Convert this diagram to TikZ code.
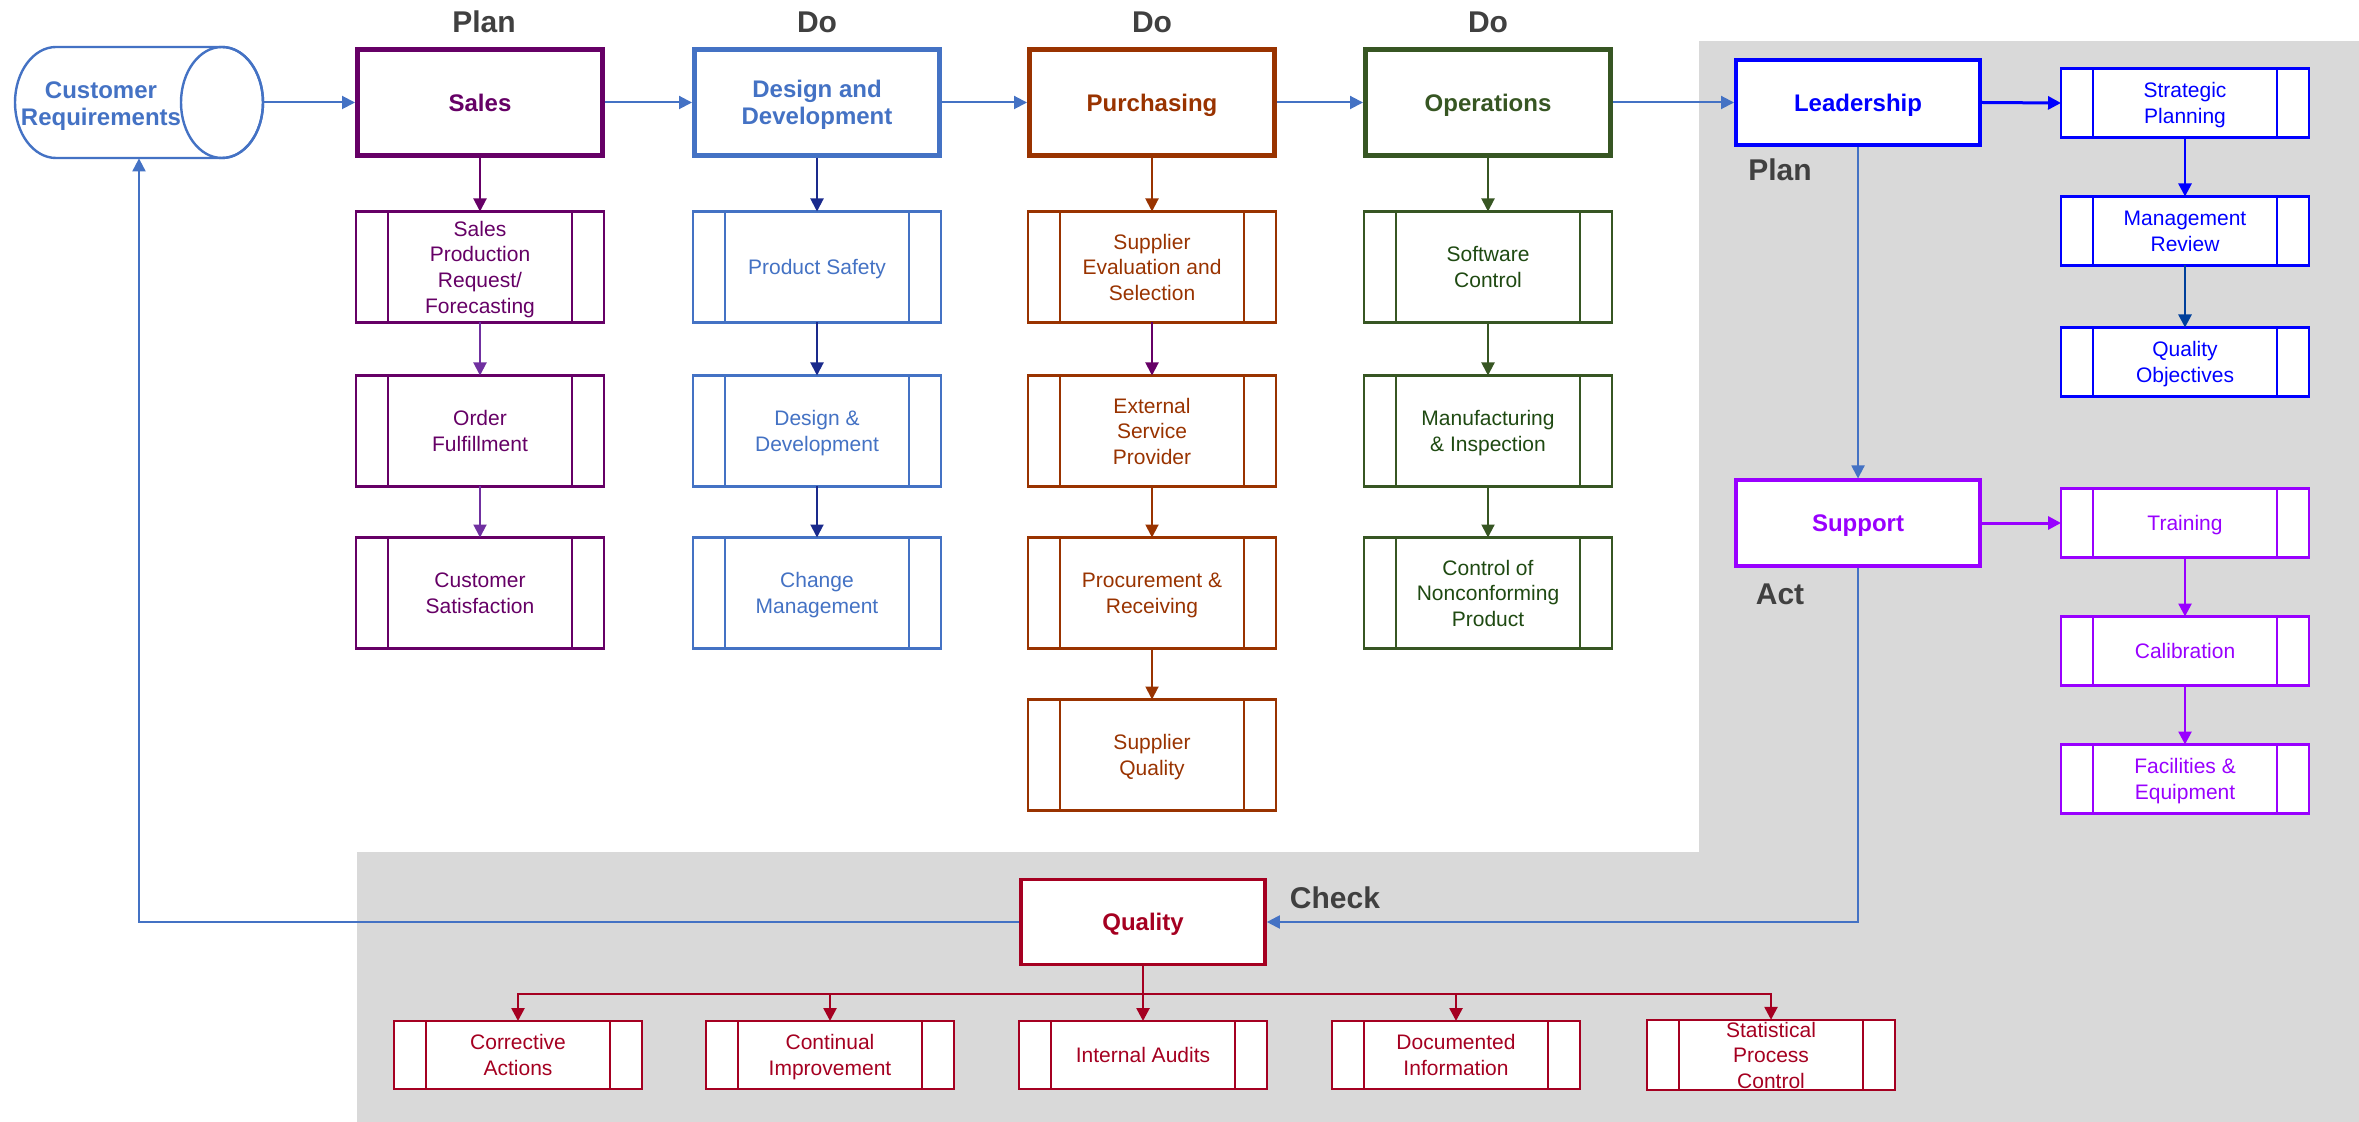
\documentclass[tikz,border=0pt]{standalone}
\usepackage{fontspec}
\setmainfont{Liberation Sans}
\usetikzlibrary{arrows.meta}
\definecolor{salesC}{HTML}{660066}
\definecolor{salesA}{HTML}{7030A0}
\definecolor{desC}{HTML}{4472C4}
\definecolor{desA}{HTML}{1A2A8C}
\definecolor{purC}{HTML}{993300}
\definecolor{opsC}{HTML}{375623}
\definecolor{opsT}{HTML}{1F4A12}
\definecolor{leadC}{HTML}{0000FF}
\definecolor{leadA}{HTML}{00409C}
\definecolor{supC}{HTML}{9900FF}
\definecolor{qualC}{HTML}{A50021}
\definecolor{bgC}{HTML}{D9D9D9}
\definecolor{lblC}{HTML}{404040}
\newcommand{\pbox}[6][]{%
  \node[subbox, draw=#4, text=#4, minimum height=#5, #1] (#2) at #3 {#6};
  \draw[#4, line width=1.2pt] ([xshift=16pt]#2.north west) -- ([xshift=16pt]#2.south west)
    ([xshift=-16pt]#2.north east) -- ([xshift=-16pt]#2.south east);}
\begin{document}
\begin{tikzpicture}[x=0.5pt,y=-0.5pt,
  mainbox/.style={draw, fill=white, line width=2.5pt, minimum width=122.5pt, minimum height=53pt, align=center, font=\fontsize{12}{13.5}\selectfont\bfseries, inner sep=2pt, text depth=0pt},
  thinmain/.style={draw, fill=white, line width=2pt, minimum width=122pt, minimum height=42.5pt, align=center, font=\fontsize{12}{13.5}\selectfont\bfseries, inner sep=2pt, text depth=0pt},
  subbox/.style={draw, fill=white, line width=1.2pt, minimum width=124pt, align=center, font=\fontsize{10.5}{12.8}\selectfont, inner sep=1pt, outer sep=0pt, text depth=0pt},
  phase/.style={font=\fontsize{15}{18}\selectfont\bfseries, text=lblC, inner sep=0pt},
  arr/.style={-{Triangle[length=6.5pt,width=6.5pt]}, line width=1pt}
]
\useasboundingbox (0,0) rectangle (2359,1122);
\fill[bgC] (1699,41) rectangle (2359,1122);
\fill[bgC] (357,852) rectangle (2359,1122);
% phase labels
\node[phase] (lp1) at (484,22) {Plan};
\node[phase] (ld1) at (817,22) {Do};
\node[phase] (ld2) at (1152,22) {Do};
\node[phase] (ld3) at (1488,22) {Do};
\node[phase] (lp2) at (1780,170) {Plan};
\node[phase] (la) at (1780,594) {Act};
\node[phase] (lc) at (1335,898) {Check};
% customer requirements cylinder
\node[minimum width=124pt, minimum height=55.5pt, inner sep=0pt] (cr) at (139,102.5) {};
\filldraw[fill=white, draw=desC, line width=1.2pt] (222,47) -- (56,47)
  arc[start angle=90, end angle=270, x radius=20.5pt, y radius=27.75pt] -- (222,158)
  arc[start angle=-90, end angle=90, x radius=20.5pt, y radius=27.75pt] -- cycle;
\draw[desC, line width=1.2pt] (222,102.5) ellipse [x radius=20.5pt, y radius=27.75pt];
\node[text=desC, font=\fontsize{12}{13.5}\selectfont\bfseries, align=center, text depth=0pt] (crt) at (101,104) {Customer\\Requirements};
% main boxes
\node[mainbox, draw=salesC, text=salesC] (sales) at (480,102.5) {Sales};
\node[mainbox, draw=desC, text=desC] (dd) at (817,102.5) {Design and\\Development};
\node[mainbox, draw=purC, text=purC] (pur) at (1152,102.5) {Purchasing};
\node[mainbox, draw=opsC, text=opsC] (ops) at (1488,102.5) {Operations};
\node[thinmain, draw=leadC, text=leadC] (lead) at (1858,102.5) {Leadership};
\node[thinmain, draw=supC, text=supC] (sup) at (1858,523) {Support};
\node[thinmain, draw=qualC, text=qualC, line width=1.8pt] (qual) at (1143,922) {Quality};
% sales column
\pbox{s1}{(480,267)}{salesC}{55.5pt}{Sales\\Production\\Request/\\Forecasting}
\pbox{s2}{(480,431)}{salesC}{55.5pt}{Order\\Fulfillment}
\pbox{s3}{(480,593)}{salesC}{55.5pt}{Customer\\Satisfaction}
% design column
\pbox{d1}{(817,267)}{desC}{55.5pt}{Product Safety}
\pbox{d2}{(817,431)}{desC}{55.5pt}{Design \&\\Development}
\pbox{d3}{(817,593)}{desC}{55.5pt}{Change\\Management}
% purchasing column
\pbox{p1}{(1152,267)}{purC}{55.5pt}{Supplier\\Evaluation and\\Selection}
\pbox{p2}{(1152,431)}{purC}{55.5pt}{External\\Service\\Provider}
\pbox{p3}{(1152,593)}{purC}{55.5pt}{Procurement \&\\Receiving}
\pbox{p4}{(1152,755)}{purC}{55.5pt}{Supplier\\Quality}
% operations column
\pbox[text=opsT]{o1}{(1488,267)}{opsC}{55.5pt}{Software\\Control}
\pbox[text=opsT]{o2}{(1488,431)}{opsC}{55.5pt}{Manufacturing\\\& Inspection}
\pbox[text=opsT]{o3}{(1488,593)}{opsC}{55.5pt}{Control of\\Nonconforming\\Product}
% leadership column
\pbox{l1}{(2185,103)}{leadC}{34.5pt}{Strategic\\Planning}
\pbox{l2}{(2185,231)}{leadC}{34.5pt}{Management\\Review}
\pbox{l3}{(2185,362)}{leadC}{34.5pt}{Quality\\Objectives}
% support column
\pbox{t1}{(2185,523)}{supC}{34.5pt}{Training}
\pbox{t2}{(2185,651)}{supC}{34.5pt}{Calibration}
\pbox{t3}{(2185,779)}{supC}{34.5pt}{Facilities \&\\Equipment}
% quality row
\pbox{q1}{(518,1055)}{qualC}{34pt}{Corrective\\Actions}
\pbox{q2}{(830,1055)}{qualC}{34pt}{Continual\\Improvement}
\pbox{q3}{(1143,1055)}{qualC}{34pt}{Internal Audits}
\pbox{q4}{(1456,1055)}{qualC}{34pt}{Documented\\Information}
\pbox{q5}{(1771,1055)}{qualC}{34pt}{Statistical\\Process\\Control}
% main chain
\draw[arr, desC] (cr.east) -- (sales.west);
\draw[arr, desC] (sales.east) -- (dd.west);
\draw[arr, desC] (dd.east) -- (pur.west);
\draw[arr, desC] (pur.east) -- (ops.west);
\draw[arr, desC] (ops.east) -- (lead.west);
\draw[arr, leadC, line width=1.5pt] (lead.east) -- (l1.west);
\draw[arr, desC] (lead.south) -- (sup.north);
\draw[arr, desC] (sup.south) |- (qual.east);
\draw[arr, desC] (qual.west) -| (cr.south);
\draw[arr, supC, line width=1.5pt] (sup.east) -- (t1.west);
% columns
\draw[arr, salesC] (sales.south) -- (s1.north);
\draw[arr, salesA] (s1.south) -- (s2.north);
\draw[arr, salesA] (s2.south) -- (s3.north);
\draw[arr, desA] (dd.south) -- (d1.north);
\draw[arr, desA] (d1.south) -- (d2.north);
\draw[arr, desA] (d2.south) -- (d3.north);
\draw[arr, purC] (pur.south) -- (p1.north);
\draw[arr, salesC] (p1.south) -- (p2.north);
\draw[arr, purC] (p2.south) -- (p3.north);
\draw[arr, purC] (p3.south) -- (p4.north);
\draw[arr, opsC] (ops.south) -- (o1.north);
\draw[arr, opsC] (o1.south) -- (o2.north);
\draw[arr, opsC] (o2.south) -- (o3.north);
\draw[arr, leadC, line width=1.3pt] (l1.south) -- (l2.north);
\draw[arr, leadA, line width=1.3pt] (l2.south) -- (l3.north);
\draw[arr, supC, line width=1.3pt] (t1.south) -- (t2.north);
\draw[arr, supC, line width=1.3pt] (t2.south) -- (t3.north);
% quality bus
\coordinate (qbus) at (1143,994);
\draw[qualC, line width=1.3pt] (qual.south) -- (qbus);
\draw[arr, qualC, line width=1.3pt] (qbus) -| (q1.north);
\draw[arr, qualC, line width=1.3pt] (qbus) -| (q2.north);
\draw[arr, qualC, line width=1.3pt] (qbus) -- (q3.north);
\draw[arr, qualC, line width=1.3pt] (qbus) -| (q4.north);
\draw[arr, qualC, line width=1.3pt] (qbus) -| (q5.north);
\end{tikzpicture}
\end{document}
